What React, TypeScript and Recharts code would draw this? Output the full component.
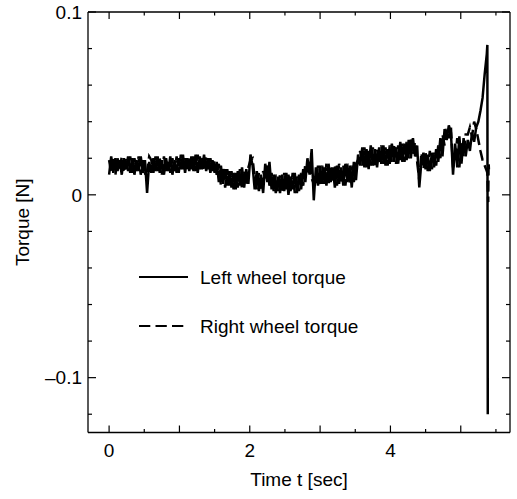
import React from 'react';
import { LineChart, Line, XAxis, YAxis, Legend } from 'recharts';

const FONT = '"Liberation Sans", Arial, Helvetica, sans-serif';

const timeSec = [
  0.00, 0.03, 0.06, 0.09, 0.12, 0.15, 0.18, 0.21, 0.24, 0.27,
  0.30, 0.33, 0.36, 0.39, 0.42, 0.45, 0.48, 0.51, 0.54, 0.57,
  0.60, 0.63, 0.66, 0.69, 0.72, 0.75, 0.78, 0.81, 0.84, 0.87,
  0.90, 0.93, 0.96, 0.99, 1.02, 1.05, 1.08, 1.11, 1.14, 1.17,
  1.20, 1.23, 1.26, 1.29, 1.32, 1.35, 1.38, 1.41, 1.44, 1.47,
  1.50, 1.53, 1.56, 1.59, 1.62, 1.65, 1.68, 1.71, 1.74, 1.77,
  1.80, 1.83, 1.86, 1.89, 1.92, 1.95, 1.98, 2.01, 2.04, 2.07,
  2.10, 2.13, 2.16, 2.19, 2.22, 2.25, 2.28, 2.31, 2.34, 2.37,
  2.40, 2.43, 2.46, 2.49, 2.52, 2.55, 2.58, 2.61, 2.64, 2.67,
  2.70, 2.73, 2.76, 2.79, 2.82, 2.85, 2.88, 2.91, 2.94, 2.97,
  3.00, 3.03, 3.06, 3.09, 3.12, 3.15, 3.18, 3.21, 3.24, 3.27,
  3.30, 3.33, 3.36, 3.39, 3.42, 3.45, 3.48, 3.51, 3.54, 3.57,
  3.60, 3.63, 3.66, 3.69, 3.72, 3.75, 3.78, 3.81, 3.84, 3.87,
  3.90, 3.93, 3.96, 3.99, 4.02, 4.05, 4.08, 4.11, 4.14, 4.17,
  4.20, 4.23, 4.26, 4.29, 4.32, 4.35, 4.38, 4.41, 4.44, 4.47,
  4.50, 4.53, 4.56, 4.59, 4.62, 4.65, 4.68, 4.71, 4.74, 4.77,
  4.80, 4.83, 4.86, 4.89, 4.92, 4.95, 4.98, 5.01, 5.04, 5.07,
  5.10, 5.13, 5.16, 5.19, 5.22, 5.25, 5.28, 5.31, 5.34, 5.37,
  5.378, 5.384, 5.39, 5.396, 5.40,
];

const leftWheelTorque: (number | null)[] = [
  0.011, 0.021, 0.012, 0.020, 0.013, 0.019, 0.011, 0.020, 0.014, 0.021,
  0.012, 0.020, 0.011, 0.019, 0.013, 0.021, 0.012, 0.019, 0.001, 0.018,
  0.012, 0.020, 0.013, 0.021, 0.012, 0.019, 0.011, 0.020, 0.013, 0.021,
  0.011, 0.019, 0.012, 0.020, 0.014, 0.022, 0.012, 0.020, 0.013, 0.021,
  0.013, 0.022, 0.012, 0.021, 0.014, 0.022, 0.013, 0.020, 0.012, 0.019,
  0.012, 0.018, 0.007, 0.016, 0.006, 0.014, 0.005, 0.013, 0.004, 0.012,
  0.003, 0.013, 0.005, 0.015, 0.004, 0.014, 0.006, 0.022, 0.016, 0.003,
  0.013, 0.002, 0.011, 0.001, 0.017, 0.007, 0.018, 0.003, 0.011, 0.001,
  0.010, 0.001, 0.011, 0.002, 0.012, 0.000, 0.010, 0.003, 0.012, 0.001,
  0.011, 0.003, 0.014, 0.007, 0.020, 0.011, 0.025, -0.003, 0.015, 0.005,
  0.016, 0.006, 0.015, 0.005, 0.017, 0.007, 0.015, 0.004, 0.016, 0.006,
  0.015, 0.005, 0.017, 0.007, 0.016, 0.004, 0.018, 0.008, 0.022, 0.016,
  0.026, 0.015, 0.025, 0.014, 0.027, 0.016, 0.025, 0.015, 0.026, 0.017,
  0.027, 0.016, 0.025, 0.017, 0.028, 0.018, 0.026, 0.017, 0.029, 0.018,
  0.028, 0.019, 0.030, 0.020, 0.031, 0.021, 0.027, 0.004, 0.018, 0.023,
  0.014, 0.022, 0.013, 0.023, 0.015, 0.025, 0.018, 0.031, 0.021, 0.036,
  0.030, 0.038, 0.034, 0.011, 0.028, 0.015, 0.032, 0.017, 0.031, 0.021,
  0.030, 0.024, 0.034, 0.029, 0.037, 0.040, 0.046, 0.053, 0.066, 0.077,
  0.082, -0.120, null, null, null,
];

const rightWheelTorque: (number | null)[] = [
  0.019, 0.012, 0.021, 0.011, 0.020, 0.013, 0.021, 0.012, 0.020, 0.013,
  0.021, 0.012, 0.020, 0.013, 0.021, 0.011, 0.019, 0.012, 0.013, 0.021,
  0.019, 0.012, 0.021, 0.013, 0.020, 0.011, 0.021, 0.013, 0.019, 0.012,
  0.020, 0.013, 0.021, 0.012, 0.022, 0.014, 0.020, 0.013, 0.021, 0.014,
  0.021, 0.013, 0.022, 0.014, 0.020, 0.013, 0.021, 0.014, 0.020, 0.013,
  0.019, 0.011, 0.017, 0.005, 0.015, 0.004, 0.014, 0.005, 0.013, 0.003,
  0.012, 0.004, 0.014, 0.003, 0.013, 0.005, 0.015, 0.019, 0.020, 0.009,
  0.003, 0.012, 0.002, 0.013, 0.009, 0.016, 0.005, 0.012, 0.002, 0.011,
  0.002, 0.011, 0.001, 0.012, 0.003, 0.011, 0.002, 0.012, 0.001, 0.010,
  0.002, 0.012, 0.005, 0.017, 0.014, 0.019, 0.009, 0.006, 0.007, 0.016,
  0.005, 0.016, 0.006, 0.017, 0.005, 0.015, 0.007, 0.016, 0.005, 0.017,
  0.006, 0.016, 0.005, 0.017, 0.006, 0.016, 0.007, 0.017, 0.019, 0.024,
  0.016, 0.026, 0.015, 0.024, 0.016, 0.026, 0.015, 0.025, 0.017, 0.027,
  0.017, 0.026, 0.016, 0.027, 0.018, 0.028, 0.017, 0.027, 0.019, 0.028,
  0.018, 0.029, 0.020, 0.031, 0.022, 0.029, 0.018, 0.008, 0.023, 0.014,
  0.023, 0.013, 0.024, 0.014, 0.023, 0.016, 0.027, 0.020, 0.033, 0.027,
  0.036, 0.031, 0.037, 0.015, 0.020, 0.031, 0.015, 0.029, 0.021, 0.033,
  0.033, 0.037, 0.032, 0.040, 0.036, 0.030, 0.024, 0.019, 0.016, 0.013,
  0.012, 0.003, -0.004, 0.018, 0.014,
];

const xTicks = [0, 0.5, 1, 1.5, 2, 2.5, 3, 3.5, 4, 4.5, 5, 5.5];
const xMajorTicks = [0, 1, 2, 3, 4, 5];
const xLabelValues = [0, 2, 4];
const xTickLabels = ['0', '2', '4'];

const yTicks = [-0.12, -0.1, -0.08, -0.06, -0.04, -0.02, 0, 0.02, 0.04, 0.06, 0.08, 0.1];
const yLabelValues = [-0.1, 0, 0.1];
const yTickLabels = ['\u20130.1', '0', '0.1'];

const seriesNames = ['Left wheel torque', 'Right wheel torque'];

const data = timeSec.map((t, i) => ({ t, left: leftWheelTorque[i], right: rightWheelTorque[i] }));

const near = (a: number, b: number) => Math.abs(a - b) < 1e-6;
const idxOf = (arr: number[], v: number) => arr.findIndex((m) => near(m, v));

const BottomTick = (props: any) => {
  const { x, y, payload } = props;
  const v = payload.value;
  const len = idxOf(xMajorTicks, v) >= 0 ? 7 : 3.5;
  const li = idxOf(xLabelValues, v);
  return (
    <g>
      <line x1={x} x2={x} y1={y} y2={y - len} stroke="#000" strokeWidth={1.2} />
      {li >= 0 && (
        <text x={x} y={y + 24.5} textAnchor="middle" fontSize={19} fontFamily={FONT} fill="#000">
          {xTickLabels[li]}
        </text>
      )}
    </g>
  );
};

const TopTick = (props: any) => {
  const { x, y, payload } = props;
  const len = idxOf(xMajorTicks, payload.value) >= 0 ? 7 : 3.5;
  return <line x1={x} x2={x} y1={y} y2={y + len} stroke="#000" strokeWidth={1.2} />;
};

const LeftTick = (props: any) => {
  const { x, y, payload } = props;
  const li = idxOf(yLabelValues, payload.value);
  const len = li >= 0 ? 8 : 4;
  return (
    <g>
      <line x1={x} x2={x + len} y1={y} y2={y} stroke="#000" strokeWidth={1.2} />
      {li >= 0 && (
        <text x={x - 6} y={y} dy="0.36em" textAnchor="end" fontSize={19} fontFamily={FONT} fill="#000">
          {yTickLabels[li]}
        </text>
      )}
    </g>
  );
};

const RightTick = (props: any) => {
  const { x, y, payload } = props;
  const len = idxOf(yLabelValues, payload.value) >= 0 ? 8 : 4;
  return <line x1={x} x2={x - len} y1={y} y2={y} stroke="#000" strokeWidth={1.2} />;
};

const XTitle = (props: any) => {
  const vb = props.viewBox;
  return (
    <text x={vb.x + vb.width / 2} y={vb.y + 53.5} textAnchor="middle" fontSize={19} fontFamily={FONT} fill="#000">
      Time t [sec]
    </text>
  );
};

const YTitle = (props: any) => {
  const vb = props.viewBox;
  const cx = 29;
  const cy = vb.y + vb.height / 2;
  return (
    <text x={cx} y={cy} transform={`rotate(-90, ${cx}, ${cy})`} textAnchor="middle" fontSize={19} fontFamily={FONT} fill="#000">
      Torque [N]
    </text>
  );
};

const LegendBox = () => (
  <svg width={260} height={90} style={{ display: 'block', overflow: 'visible' }}>
    <line x1={9} x2={58} y1={22} y2={22} stroke="#000" strokeWidth={2} />
    <text x={70} y={22} dy="0.36em" fontSize={19} fontFamily={FONT} fill="#000">{seriesNames[0]}</text>
    <line x1={9} x2={53.5} y1={71} y2={71} stroke="#000" strokeWidth={2} strokeDasharray="11.3 5.2" />
    <text x={70} y={71} dy="0.36em" fontSize={19} fontFamily={FONT} fill="#000">{seriesNames[1]}</text>
  </svg>
);

export default function App() {
  return (
    <div style={{ position: 'absolute', left: 0, top: 0, width: 517, height: 499, background: '#fff' }}>
      <LineChart width={517} height={499} data={data} margin={{ top: 11, right: 6, bottom: 0, left: 0 }}>
        <XAxis
          xAxisId="b"
          dataKey="t"
          type="number"
          domain={[-0.3, 5.7]}
          allowDataOverflow
          ticks={xTicks}
          interval={0}
          height={66.5}
          tickSize={0}
          tickMargin={0}
          tickLine={false}
          axisLine={{ stroke: '#000', strokeWidth: 1.3 }}
          tick={<BottomTick />}
          label={XTitle}
        />
        <XAxis
          xAxisId="t"
          orientation="top"
          dataKey="t"
          type="number"
          domain={[-0.3, 5.7]}
          allowDataOverflow
          ticks={xTicks}
          interval={0}
          height={1}
          tickSize={0}
          tickMargin={0}
          tickLine={false}
          axisLine={{ stroke: '#000', strokeWidth: 1.3 }}
          tick={<TopTick />}
        />
        <YAxis
          yAxisId="l"
          type="number"
          domain={[-0.13, 0.1]}
          allowDataOverflow
          ticks={yTicks}
          interval={0}
          width={88}
          tickSize={0}
          tickMargin={0}
          tickLine={false}
          axisLine={{ stroke: '#000', strokeWidth: 1.3 }}
          tick={<LeftTick />}
          label={YTitle}
        />
        <YAxis
          yAxisId="r"
          orientation="right"
          type="number"
          domain={[-0.13, 0.1]}
          allowDataOverflow
          ticks={yTicks}
          interval={0}
          width={1}
          tickSize={0}
          tickMargin={0}
          tickLine={false}
          axisLine={{ stroke: '#000', strokeWidth: 1.3 }}
          tick={<RightTick />}
        />
        <Legend
          layout="horizontal"
          verticalAlign="middle"
          align="center"
          wrapperStyle={{ left: 130, top: 255, width: 260, height: 90 }}
          content={<LegendBox />}
        />
        <Line
          xAxisId="t"
          yAxisId="r"
          dataKey="left"
          stroke="transparent"
          dot={false}
          activeDot={false}
          legendType="none"
          isAnimationActive={false}
        />
        <Line
          xAxisId="b"
          yAxisId="l"
          type="linear"
          dataKey="right"
          name={seriesNames[1]}
          stroke="#000"
          strokeWidth={2.5}
          strokeDasharray="11 5"
          dot={false}
          activeDot={false}
          isAnimationActive={false}
        />
        <Line
          xAxisId="b"
          yAxisId="l"
          type="linear"
          dataKey="left"
          name={seriesNames[0]}
          stroke="#000"
          strokeWidth={2.5}
          dot={false}
          activeDot={false}
          isAnimationActive={false}
        />
      </LineChart>
    </div>
  );
}
